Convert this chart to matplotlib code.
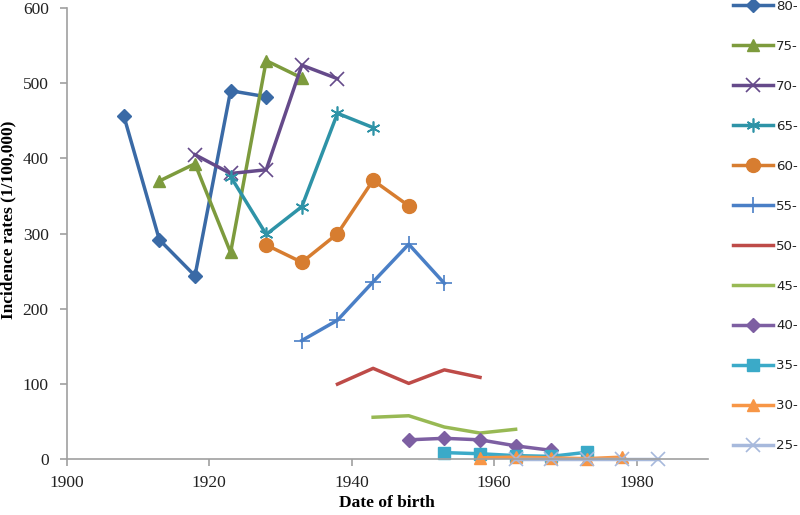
import matplotlib
matplotlib.use("Agg")
import matplotlib.pyplot as plt

groups = ["80-", "75-", "70-", "65-", "60-", "55-", "50-", "45-", "40-", "35-", "30-", "25-"]

x_80 = [1908, 1913, 1918, 1923, 1928]
y_80 = [457, 292, 244, 490, 482]
x_75 = [1913, 1918, 1923, 1928, 1933]
y_75 = [370, 393, 275, 530, 507]
x_70 = [1918, 1923, 1928, 1933, 1938]
y_70 = [405, 380, 385, 524, 506]
x_65 = [1923, 1928, 1933, 1938, 1943]
y_65 = [376, 299, 336, 460, 441]
x_60 = [1928, 1933, 1938, 1943, 1948]
y_60 = [285, 262, 300, 371, 337]
x_55 = [1933, 1938, 1943, 1948, 1953]
y_55 = [158, 185, 236, 286, 234]
x_50 = [1938, 1943, 1948, 1953, 1958]
y_50 = [100, 121, 101, 119, 109]
x_45 = [1943, 1948, 1953, 1958, 1963]
y_45 = [56, 58, 43, 35, 40]
x_40 = [1948, 1953, 1958, 1963, 1968]
y_40 = [26, 28, 26, 18, 12]
x_35 = [1953, 1958, 1963, 1968, 1973]
y_35 = [9, 7.5, 5, 4, 9.5]
x_30 = [1958, 1963, 1968, 1973, 1978]
y_30 = [2, 3, 2, 1, 3]
x_25 = [1963, 1968, 1973, 1978, 1983]
y_25 = [0.5, 0.5, 0.5, 0.5, 0.5]

xs = [x_80, x_75, x_70, x_65, x_60, x_55, x_50, x_45, x_40, x_35, x_30, x_25]
ys = [y_80, y_75, y_70, y_65, y_60, y_55, y_50, y_45, y_40, y_35, y_30, y_25]

colors = ["#3A6AA6", "#7D9B3D", "#654A8A", "#2E93A7", "#D77D30", "#4A7FC6",
          "#BE4B48", "#98B954", "#7D5FA2", "#3BAAC8", "#F79646", "#A7B9DC"]
markers = ["D", "^", "x", (6, 2, 0), "o", "+", None, None, "D", "s", "^", "x"]
msizes = [7, 9, 10, 10, 10, 11, 0, 0, 7, 9, 9, 10]

fig = plt.figure(figsize=(8, 5.15), dpi=100)
ax = fig.add_axes([0.0834, 0.108, 0.8016, 0.8765])

handles = []
for i in range(len(groups)):
    m = markers[i]
    mew = 1.2 if m in ("x", "+", (6, 2, 0)) else 1.0
    h, = ax.plot(xs[i], ys[i], color=colors[i], lw=2.5, marker=m, ms=msizes[i],
                 mfc=colors[i], mec=colors[i], mew=mew, label=groups[i],
                 solid_joinstyle="round", clip_on=False)
    handles.append(h)

ax.set_xlim(1900, 1990)
ax.set_ylim(0, 600)
ax.set_xticks([1900, 1920, 1940, 1960, 1980])
ax.set_yticks([0, 100, 200, 300, 400, 500, 600])
for s in ["top", "right"]:
    ax.spines[s].set_visible(False)
for s in ["left", "bottom"]:
    ax.spines[s].set_color("#A0A0A0")
    ax.spines[s].set_linewidth(1.2)
ax.tick_params(axis="x", direction="out", length=5, color="#A0A0A0", width=1.2,
               labelsize=12.5, labelcolor="#222222", pad=6)
ax.tick_params(axis="y", direction="out", length=5, color="#A0A0A0", width=1.2,
               labelsize=12.5, labelcolor="#222222", pad=8)
for lab in ax.get_xticklabels() + ax.get_yticklabels():
    lab.set_fontfamily("Liberation Serif")

ax.set_xlabel("Date of birth", fontsize=12.5, fontweight="bold", family="Liberation Serif")
ax.xaxis.set_label_coords(0.5, -0.079)
ax.set_ylabel("Incidence rates (1/100,000)", fontsize=12.5, fontweight="bold",
              family="Liberation Serif")
ax.yaxis.set_label_coords(-0.079, 0.53)

leg = fig.legend(handles=handles, labels=groups, loc="upper left",
                 bbox_to_anchor=(733 / 800, 1.0), bbox_transform=fig.transFigure,
                 frameon=False, fontsize=9.6, handlelength=3.0, handletextpad=0.25,
                 labelspacing=2.02, borderpad=0.0, borderaxespad=0.0, numpoints=1)
for t in leg.get_texts():
    t.set_color("#222222")

fig.savefig("out.png", dpi=100)
